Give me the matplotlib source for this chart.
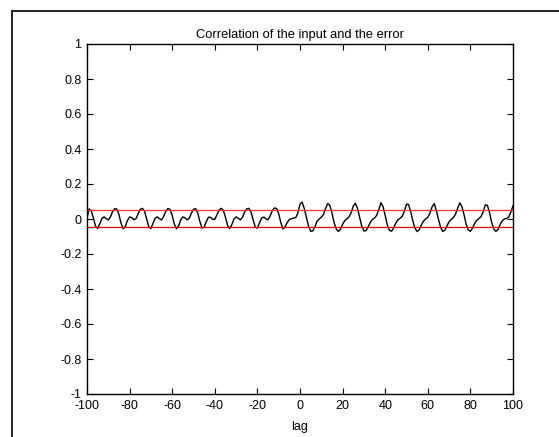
import matplotlib
matplotlib.use('Agg')
import matplotlib.pyplot as plt
import numpy as np
from matplotlib.lines import Line2D

# lags -100 .. 100
lags = np.arange(-100, 101)

# correlation values, one per lag
corr_left = [
    0.005, 0.058, 0.047, 0.005, -0.041, -0.054, -0.028, 0.003, 0.012, 0.003,      # -100 .. -91
    -0.006, 0.012, 0.042, 0.059, 0.057, 0.025, -0.025, -0.056, -0.042, -0.008,    # -90 .. -81
    0.012, 0.008, -0.004, 0.002, 0.030, 0.055, 0.061, 0.045, 0.000, -0.045,       # -80 .. -71
    -0.054, -0.025, 0.005, 0.012, 0.002, -0.006, 0.015, 0.045, 0.060, 0.055,      # -70 .. -61
    0.020, -0.029, -0.056, -0.039, -0.005, 0.012, 0.007, -0.005, 0.004, 0.033,    # -60 .. -51
    0.056, 0.059, 0.033, -0.015, -0.052, -0.047, -0.015, 0.010, 0.010, -0.002,    # -50 .. -41
    -0.002, 0.024, 0.051, 0.061, 0.050, 0.010, -0.037, -0.055, -0.032, 0.000,     # -40 .. -31
    0.012, 0.004, -0.005, 0.010, 0.039, 0.058, 0.061, 0.041, -0.005, -0.047,      # -30 .. -21
    -0.052, -0.022, 0.006, 0.011, 0.001, -0.005, 0.018, 0.047, 0.063, 0.060,      # -20 .. -11
    0.030, -0.020, -0.057, -0.045, -0.020, -0.004, 0.002, 0.005, 0.008, 0.035,    # -10 .. -1
]
corr_right = [
    0.085, 0.097, 0.060, 0.010, -0.040, -0.070, -0.068, -0.045, -0.012, 0.000,    # 0 .. 9
    0.010, 0.025, 0.060, 0.088, 0.078, 0.035, -0.020, -0.057, -0.071, -0.059,     # 10 .. 19
    -0.030, -0.010, 0.001, 0.012, 0.036, 0.073, 0.090, 0.060, 0.009, -0.041,      # 20 .. 29
    -0.068, -0.067, -0.045, -0.019, -0.003, 0.006, 0.021, 0.053, 0.093, 0.070,    # 30 .. 39
    0.020, -0.035, -0.065, -0.070, -0.050, -0.022, -0.005, 0.004, 0.015, 0.045,   # 40 .. 49
    0.085, 0.082, 0.040, -0.013, -0.053, -0.072, -0.061, -0.033, -0.012, 0.000,   # 50 .. 59
    0.010, 0.033, 0.069, 0.088, 0.050, -0.002, -0.047, -0.071, -0.064, -0.039,    # 60 .. 69
    -0.015, -0.002, 0.008, 0.027, 0.061, 0.092, 0.072, 0.025, -0.030, -0.062,     # 70 .. 79
    -0.071, -0.052, -0.025, -0.007, 0.003, 0.014, 0.042, 0.081, 0.078, 0.035,     # 80 .. 89
    -0.020, -0.057, -0.071, -0.059, -0.030, -0.010, 0.001, 0.003, 0.012, 0.040,   # 90 .. 99
    0.075,                                                                        # 100
]
corr = np.array(corr_left + corr_right)

# confidence bounds
upper_bound = 0.05
lower_bound = -0.047

xticks = np.arange(-100, 101, 20)
yticks = np.round(np.arange(-1, 1.01, 0.2), 1)
ytick_labels = ['-1', '-0.8', '-0.6', '-0.4', '-0.2', '0', '0.2', '0.4', '0.6', '0.8', '1']

plt.rcParams['font.family'] = ['Liberation Sans', 'DejaVu Sans']

fig = plt.figure(figsize=(5.59, 4.37), dpi=100)
ax = fig.add_axes([87 / 559, 43 / 437, 426 / 559, 350 / 437])

ax.plot(lags, corr, color='black', linewidth=1.0)
ax.plot([lags[0], lags[-1]], [upper_bound, upper_bound], color='#ff3030', linewidth=0.9)
ax.plot([lags[0], lags[-1]], [lower_bound, lower_bound], color='#e00000', linewidth=0.9)

ax.set_xlim(-100, 100)
ax.set_ylim(-1, 1)
ax.set_xticks(xticks)
ax.set_xticklabels([str(t) for t in xticks])
ax.set_yticks(yticks)
ax.set_yticklabels(ytick_labels)
ax.tick_params(direction='in', length=4, width=0.8, top=True, right=True,
               labelsize=9, colors='black')
ax.tick_params(axis='x', pad=4)
ax.tick_params(axis='y', pad=4)
for s in ax.spines.values():
    s.set_linewidth(1.0)

ax.set_title('Correlation of the input and the error', fontsize=9.3, pad=4)
ax.set_xlabel('lag', fontsize=9, labelpad=7)

# outer frame (top and left edges visible)
fig.add_artist(Line2D([11.5 / 559, 1.0], [1 - 10.5 / 437, 1 - 10.5 / 437],
                      transform=fig.transFigure, color='#222222', linewidth=1.4))
fig.add_artist(Line2D([11.5 / 559, 11.5 / 559], [0.0, 1 - 10.5 / 437],
                      transform=fig.transFigure, color='#222222', linewidth=1.4))

fig.savefig('out.png', dpi=100)
